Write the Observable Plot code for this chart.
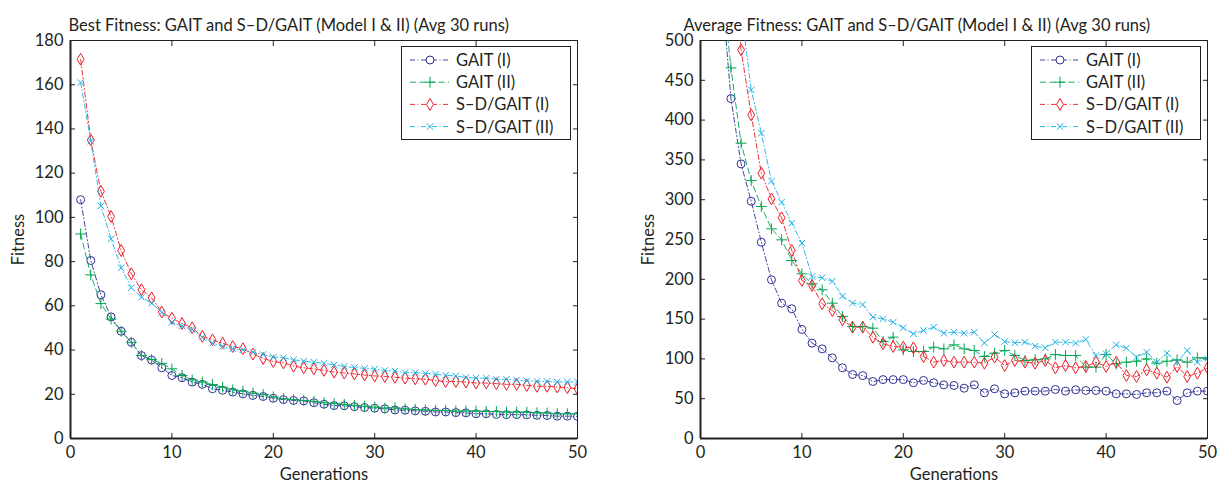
<!DOCTYPE html>
<html><head><meta charset="utf-8">
<script src="https://cdn.jsdelivr.net/npm/d3@7"></script>
<script src="https://cdn.jsdelivr.net/npm/@observablehq/plot@0.6"></script>
<style>
body{margin:0;background:#fff;font-family:Lato, sans-serif;}
#wrap{position:relative;width:1218px;height:484px;display:flex;}
.panel{position:relative;width:609px;height:484px;}
.legend{position:absolute;background:#fff;border:1.2px solid #231f20;box-sizing:border-box;}
</style></head><body>
<div id="wrap"><div class="panel" id="left"></div><div class="panel" id="right"></div></div>
<script>
// ---- data ----
const generations = d3.range(1, 51);
const seriesNames = ["GAIT (I)", "GAIT (II)", "S\u2013D/GAIT (I)", "S\u2013D/GAIT (II)"];
const seriesColors = ["#2e3192", "#00a651", "#ed1c24", "#1ab0e6"];
const seriesSymbols = ["circle", "plus", "diamond", "times"];
const xTicks = [0, 10, 20, 30, 40, 50];
const bestYTicks = [0, 20, 40, 60, 80, 100, 120, 140, 160, 180];
const avgYTicks = [0, 50, 100, 150, 200, 250, 300, 350, 400, 450, 500];

const bestGaitI = [108, 80.5, 65, 55, 48.5, 43.5, 37.5, 35.5, 32, 28.5, 27.5, 25.5, 24.5, 22.5, 21.8, 21, 20.2, 19.5, 19, 18.2, 17.6, 17.2, 17, 16.2, 15.5, 14.9, 14.8, 14.4, 14, 13.7, 13.4, 12.9, 12.8, 12.5, 12.3, 12, 12, 11.7, 11.6, 11.2, 11.2, 10.9, 10.8, 10.8, 10.7, 10.5, 10.4, 10.1, 10.1, 10];
const bestGaitII = [92.5, 74, 61, 54, 48.5, 43.5, 37.5, 35.7, 34, 31.5, 28.5, 26.5, 25.5, 24.4, 23.2, 22, 21.4, 20.5, 19.9, 18.8, 18, 17.6, 17.2, 16.8, 16.2, 15.8, 15.4, 15, 14.6, 14.2, 13.8, 13.8, 13.4, 13.1, 12.9, 12.7, 12.7, 12.4, 12.4, 12.4, 12.2, 12.2, 11.9, 11.9, 11.9, 11.6, 11.5, 11.2, 11.2, 11.2];
const bestSdI = [171.5, 135, 111.8, 100.4, 85, 74.5, 67.3, 63.6, 57.2, 54.4, 52, 50.1, 46.2, 44.6, 43.1, 41.6, 40.6, 38.2, 36.2, 34.8, 34.2, 32.7, 32, 31.5, 30.8, 30, 29.6, 29.2, 28.7, 28.3, 28, 27.7, 27.3, 27, 26.8, 26.2, 25.8, 25.8, 25.5, 25.1, 25.1, 24.8, 24.5, 24.5, 24, 23.6, 23.6, 23.3, 23, 22.5];
const bestSdII = [161, 134.5, 105.2, 90.3, 77.2, 68.2, 63.9, 61.2, 57, 52.6, 50.8, 49.3, 45.8, 43.1, 41.7, 40.6, 40.1, 39, 38, 36.8, 36.5, 35.6, 35, 34.5, 34, 33.3, 32.6, 32.1, 31.7, 31.4, 30.8, 30.5, 29.8, 29.8, 29.4, 29.1, 28.6, 28.3, 27.6, 27.3, 27.3, 26.8, 26.8, 26.4, 26.1, 25.8, 25.8, 25.6, 25.6, 25.6];

const avgGaitI = [900, 580, 427, 345, 298, 246.6, 199.4, 170, 163, 137, 119.8, 112.6, 101.3, 88.8, 80.4, 79, 71.6, 74, 74, 74, 70, 73, 70, 67.4, 66.6, 63.2, 67.4, 57.4, 62.4, 56.1, 57.4, 59.5, 59.5, 59.5, 61.6, 59.5, 61.2, 60.3, 60.3, 59.5, 56.1, 56.1, 55.3, 57.4, 57.4, 59.5, 47.7, 57.4, 59.5, 59.5];
const avgGaitII = [850, 590, 465.6, 371, 324, 291.5, 263.4, 249.6, 223.6, 206.9, 194.3, 186.8, 170, 153.3, 140.7, 140.7, 138.6, 121.9, 127.3, 111.4, 109.3, 109.3, 114.7, 112.6, 117.7, 112.6, 110.6, 103, 107.2, 110.6, 104.3, 98, 98.8, 100, 105.5, 104.3, 104.3, 89.6, 89.6, 105.5, 93.8, 95.9, 97.1, 100, 94.6, 97.1, 98.8, 95.9, 101.3, 101.3];
const avgSdI = [1100, 800, 620, 488.3, 406.6, 333.3, 301, 277.3, 236.2, 198.5, 192.2, 169.2, 160.8, 149.1, 139.8, 139.8, 127.3, 119, 115.6, 114.7, 113.9, 103, 95.9, 98, 95.9, 95.9, 95.9, 94.6, 102.2, 91.7, 98, 95.9, 94.6, 98, 88.8, 91.7, 88.8, 90.5, 95.9, 90.5, 95.9, 79.1, 77.9, 86.3, 82.1, 77, 90.5, 77.9, 82.1, 88.8];
const avgSdII = [1300, 950, 700, 540, 438, 383.6, 323.3, 296.9, 270.5, 245.4, 203.5, 201.9, 197.6, 178.8, 170, 168.3, 152.4, 150.4, 146.1, 139.1, 131.5, 135.7, 139.8, 132.3, 133.5, 132.3, 133.5, 120.2, 130.7, 121.9, 120.2, 121, 116, 113.9, 121, 121, 119.8, 124.4, 104.3, 106.4, 117.7, 113.5, 102.2, 108.5, 95.9, 107.2, 95.9, 110.6, 95.9, 100.1];

const bestTitle = "Best Fitness: GAIT and S\u2013D/GAIT (Model I & II) (Avg 30 runs)";
const avgTitle = "Average Fitness: GAIT and S\u2013D/GAIT (Model I & II) (Avg 30 runs)";

// ---- styles ----
const INK = "#231f20";
const FS = 16.5;
const dashes = ["5,2.5,1,2.5", "6,3.5", "5,2.5,1,2.5", "5,2.5,1,2.5"];
const radii = [4, 3.6, 3.6, 3.0];

function makeChart(el, cfg) {
  const rows = [];
  cfg.series.forEach((vals, si) => generations.forEach((g, i) => rows.push({gen: g, value: vals[i], s: si})));
  const marks = [];
  cfg.series.forEach((vals, si) => {
    const d = rows.filter(r => r.s === si);
    marks.push(Plot.line(d, {x: "gen", y: "value", stroke: seriesColors[si], strokeWidth: 0.9, strokeDasharray: dashes[si], clip: true}));
    marks.push(Plot.dot(d, {x: "gen", y: "value", stroke: seriesColors[si], symbol: seriesSymbols[si], r: radii[si], strokeWidth: 1, clip: true}));
  });
  const plot = Plot.plot({
    width: 609, height: 484,
    marginTop: 40, marginBottom: 46, marginLeft: cfg.ml, marginRight: cfg.mr,
    style: {fontFamily: "Lato, sans-serif", color: INK, background: "transparent"},
    x: {domain: [0, 50], axis: null},
    y: {domain: cfg.yDomain, axis: null},
    marks: [
      Plot.frame({stroke: INK, strokeWidth: 1}),
      Plot.axisX({ticks: xTicks, anchor: "bottom", tickSize: -5, tickPadding: 13, fontSize: FS, label: "Generations", labelAnchor: "center", labelArrow: "none", labelOffset: 41}),
      Plot.axisX({ticks: xTicks, anchor: "top", tickSize: -5, tickFormat: () => "", label: null}),
      Plot.axisY({ticks: cfg.yTicks, anchor: "left", tickSize: -5, tickPadding: 12, fontSize: FS, label: "Fitness", labelAnchor: "center", labelArrow: "none", labelOffset: 58}),
      Plot.axisY({ticks: cfg.yTicks, anchor: "right", tickSize: -5, tickFormat: () => "", label: null}),
      Plot.ruleY([cfg.yDomain[0]], {stroke: INK, strokeWidth: 2}),
      Plot.ruleX([0], {stroke: INK, strokeWidth: 2}),
      ...marks,
      Plot.text([cfg.title], {frameAnchor: "top-left", textAnchor: "start", dx: cfg.titleDx, dy: -21, fontSize: FS, fill: INK})
    ]
  });
  el.appendChild(plot);

  // legend
  const lg = d3.select(el).append("div").attr("class", "legend")
    .style("left", cfg.legend[0] + "px").style("top", cfg.legend[1] + "px")
    .style("width", "170px").style("height", "94px");
  const svg = lg.append("svg").attr("width", 168).attr("height", 92).style("display", "block");
  seriesNames.forEach((name, i) => {
    const g = svg.append("g").attr("transform", `translate(0,${13 + i * 22.2})`);
    g.append("line").attr("x1", 8).attr("x2", 47).attr("stroke", seriesColors[i]).attr("stroke-width", 0.9).attr("stroke-dasharray", dashes[i]);
    const sym = {circle: d3.symbolCircle, plus: d3.symbolPlus, diamond: d3.symbolDiamond, times: d3.symbolTimes}[seriesSymbols[i]];
    g.append("path").attr("transform", "translate(28,0)").attr("d", d3.symbol(sym, Math.PI * radii[i] * radii[i])())
      .attr("fill", sym === d3.symbolCircle || sym === d3.symbolDiamond ? "white" : "none").attr("stroke", seriesColors[i]).attr("stroke-width", 1);
    g.append("text").attr("x", 54).attr("y", 0).attr("dy", "0.36em").attr("font-size", FS).attr("fill", INK).text(name);
  });
}

makeChart(document.getElementById("left"), {
  series: [bestGaitI, bestGaitII, bestSdI, bestSdII], yDomain: [0, 180], yTicks: bestYTicks,
  ml: 70, mr: 32, title: bestTitle, titleDx: -2, legend: [401, 46]
});
makeChart(document.getElementById("right"), {
  series: [avgGaitI, avgGaitII, avgSdI, avgSdII], yDomain: [0, 500], yTicks: avgYTicks,
  ml: 91, mr: 11, title: avgTitle, titleDx: -17, legend: [422, 46]
});
</script></body></html>
